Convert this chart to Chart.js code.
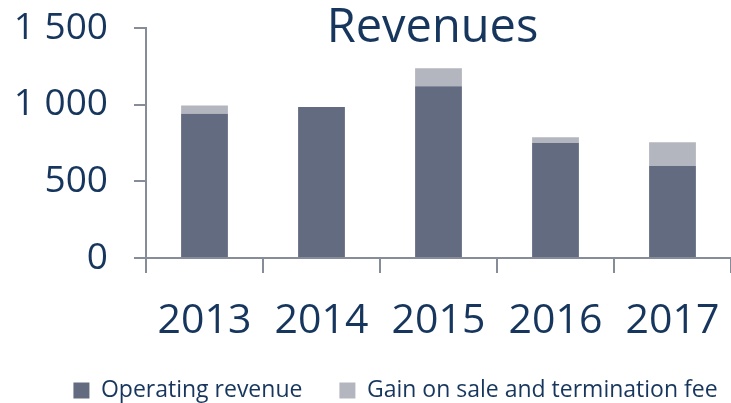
<!DOCTYPE html>
<html>
<head>
<meta charset="utf-8">
<script src="https://cdn.jsdelivr.net/npm/chart.js@4"></script>
<style>
  html, body { margin: 0; padding: 0; background: #fff; }
  #wrap { width: 731px; height: 403px; position: relative; }
</style>
</head>
<body>
<div id="wrap"><canvas id="revChart"></canvas></div>
<script>
// --- Data ---
const years = ['2013', '2014', '2015', '2016', '2017'];
const operatingRevenue = [940, 985, 1120, 750, 600];
const gainOnSale = [55, 0, 118, 38, 155];
const yTickValues = [0, 500, 1000, 1500];
const seriesNames = ['Operating revenue', 'Gain on sale and termination fee'];
const chartTitle = 'Revenues';

const navy = '#17365d';
const axisGrey = '#878c99';

// "1 500" style thousands separator
function fmtThousands(v) {
    return String(v).replace(/\B(?=(\d{3})+(?!\d))/g, ' ');
}

// title sits inside the plot area, so draw it ourselves
const insideTitle = {
    id: 'insideTitle',
    afterDraw(chart) {
        const { ctx, chartArea } = chart;
        ctx.save();
        ctx.font = '47px "Open Sans"';
        ctx.fillStyle = navy;
        ctx.textAlign = 'center';
        ctx.textBaseline = 'alphabetic';
        ctx.fillText(chartTitle, (chartArea.left + chartArea.right) / 2 - 6, chartArea.top + 14);
        ctx.restore();
    }
};

// legend in the original is centred a bit right of the canvas middle
const legendShift = {
    id: 'legendShift',
    afterLayout(chart) {
        const lg = chart.legend;
        if (!lg) return;
        lg.left += 30;
        lg.right += 30;
    }
};

const ctx = document.getElementById('revChart').getContext('2d');
window.revChart = new Chart(ctx, {
    type: 'bar',
    data: {
        labels: years,
        datasets: [
            {
                label: seriesNames[0],
                data: operatingRevenue,
                backgroundColor: '#636b80',
                borderWidth: 0,
                barPercentage: 0.4,
                categoryPercentage: 1
            },
            {
                label: seriesNames[1],
                data: gainOnSale,
                backgroundColor: '#b3b6be',
                borderWidth: 0,
                barPercentage: 0.4,
                categoryPercentage: 1
            }
        ]
    },
    options: {
        responsive: true,
        maintainAspectRatio: false,
        animation: false,
        layout: { padding: { left: 0, right: 0, top: 28, bottom: -9 } },
        plugins: {
            title: { display: false },
            tooltip: { enabled: false },
            legend: {
                position: 'bottom',
                labels: {
                    boxWidth: 16,
                    boxHeight: 16,
                    padding: 37,
                    color: navy,
                    font: { family: '"Open Sans"', size: 23 }
                }
            }
        },
        scales: {
            x: {
                stacked: true,
                offset: true,
                border: { display: true, color: axisGrey, width: 2 },
                grid: {
                    offset: true,
                    drawOnChartArea: false,
                    drawTicks: true,
                    tickLength: 15,
                    color: axisGrey,
                    lineWidth: 2
                },
                ticks: {
                    color: navy,
                    padding: 24,
                    maxRotation: 0,
                    font: { family: '"Open Sans"', size: 41 }
                },
                afterFit(scale) {
                    scale.height = 84;
                    scale.paddingLeft = 0;
                    scale.paddingRight = 0;
                }
            },
            y: {
                stacked: true,
                min: 0,
                max: 1500,
                border: { display: true, color: axisGrey, width: 2 },
                grid: {
                    drawOnChartArea: false,
                    drawTicks: true,
                    tickLength: 12,
                    color: axisGrey,
                    lineWidth: 2
                },
                ticks: {
                    color: navy,
                    padding: 26,
                    font: { family: '"Open Sans"', size: 37 },
                    callback: (v) => fmtThousands(v)
                },
                afterBuildTicks(scale) {
                    scale.ticks = yTickValues.map(v => ({ value: v }));
                },
                afterFit(scale) {
                    scale.width = 146;
                    scale.paddingTop = 0;
                    scale.paddingBottom = 0;
                }
            }
        }
    },
    plugins: [insideTitle, legendShift]
});
</script>
</body>
</html>
